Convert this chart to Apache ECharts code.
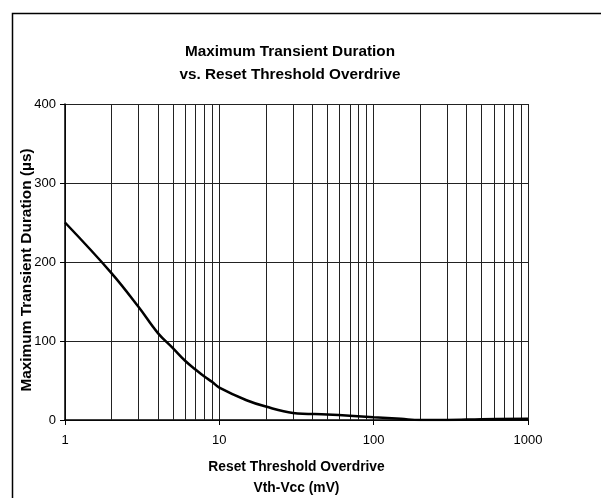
<!DOCTYPE html>
<html><head><meta charset="utf-8">
<script src="https://cdn.jsdelivr.net/npm/echarts@6/dist/echarts.min.js"></script>
<style>html,body{margin:0;padding:0;background:#fff}#c{width:601px;height:498px}</style>
</head><body><div id="c"></div>
<script>
const overdrive = [1, 2, 3, 4, 5, 6, 7, 8, 9, 10, 15, 20, 30, 50, 70, 100, 150, 200, 300, 500, 1000];
const duration  = [250, 186, 143, 110, 91, 75, 64, 55, 48, 41, 25, 17, 9, 7, 5.5, 3.5, 1.5, 0, 0, 1, 1.5];
const yTicks = [0, 100, 200, 300, 400];
const xTicks = [1, 10, 100, 1000];

const minorLines = [];
for (let d = 1; d < 1000; d *= 10) for (let k = 2; k <= 9; k++) minorLines.push({xAxis: d * k});

const font = 'Liberation Sans, Arial, sans-serif';
const chart = echarts.init(document.getElementById('c'), null, {renderer: 'canvas'});
chart.setOption({
  animation: false,
  backgroundColor: '#fff',
  title: {
    text: 'Maximum Transient Duration\nvs. Reset Threshold Overdrive',
    left: 285, top: 35, textAlign: 'center',
    textStyle: {fontFamily: font, fontSize: 15.3, fontWeight: 'bold', color: '#000', lineHeight: 23}
  },
  graphic: [{type: 'rect', shape: {x: 12.5, y: 13.5, width: 700, height: 600}, style: {fill: 'none', stroke: '#000', lineWidth: 1.5}}],
  grid: {left: 65, right: 73, top: 104, bottom: 78, outerBoundsMode: 'none', containLabel: false},
  xAxis: {
    type: 'log', logBase: 10, min: 1, max: 1000,
    name: 'Reset Threshold Overdrive\nVth-Vcc (mV)', nameLocation: 'middle', nameGap: 37,
    nameMoveOverlap: false,
    nameTextStyle: {fontFamily: font, fontSize: 13.8, fontWeight: 'bold', color: '#000', lineHeight: 21},
    axisLine: {show: true, lineStyle: {color: '#000', width: 1.5}},
    axisTick: {show: true, length: 5, inside: false, lineStyle: {color: '#000'}},
    axisLabel: {fontFamily: font, fontSize: 13, color: '#000', margin: 14,
      formatter: v => xTicks.includes(Math.round(v)) ? String(Math.round(v)) : ''},
    splitLine: {show: true, lineStyle: {color: '#222', width: 1}}
  },
  yAxis: {
    type: 'value', min: 0, max: 400, interval: 100,
    name: 'Maximum Transient Duration (µs)', nameLocation: 'middle', nameGap: 30.5,
    nameMoveOverlap: false,
    nameTextStyle: {fontFamily: font, fontSize: 15.4, fontWeight: 'bold', color: '#000', padding: [0, 16, 0, 0]},
    axisLine: {show: true, lineStyle: {color: '#000', width: 1.5}},
    axisTick: {show: true, length: 5, lineStyle: {color: '#000'}},
    axisLabel: {fontFamily: font, fontSize: 13, color: '#000', margin: 9,
      formatter: v => yTicks.includes(v) ? String(v) : ''},
    splitLine: {show: true, lineStyle: {color: '#222', width: 1}}
  },
  series: [{
    type: 'line', smooth: 0.4, symbol: 'none',
    data: overdrive.map((x, i) => [x, duration[i]]),
    lineStyle: {color: '#000', width: 2.5},
    z: 5,
    markLine: {silent: true, symbol: 'none', label: {show: false},
      lineStyle: {color: '#222', width: 1, type: 'solid'}, data: minorLines}
  }]
});
</script></body></html>
